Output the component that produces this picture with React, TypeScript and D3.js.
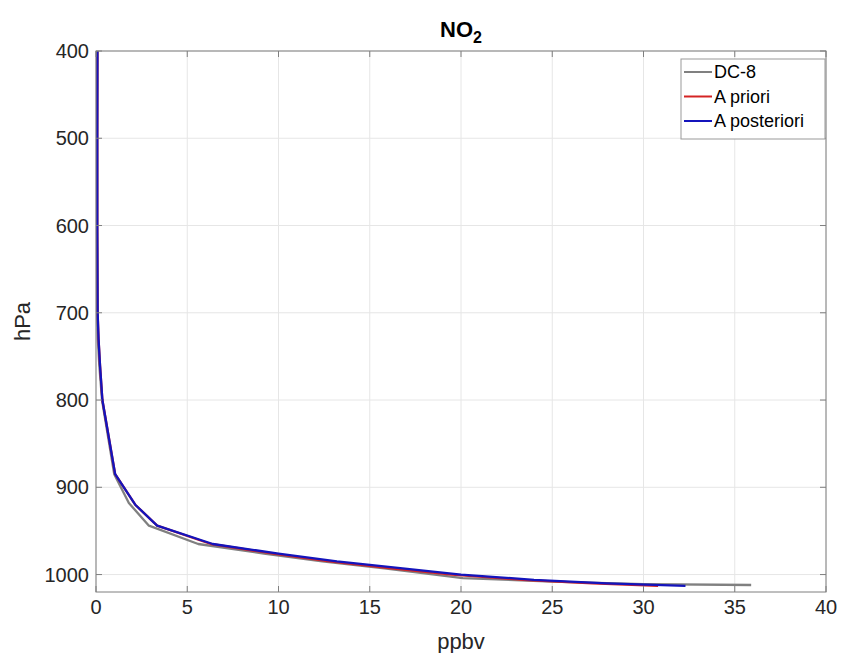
import React from 'react'
import * as d3 from 'd3'

const width = 845
const height = 653
const margin = { top: 51, right: 19, bottom: 61, left: 96 }

// pressure levels (hPa) and mixing ratios (ppbv)
const posteriorP = [400, 500, 600, 700, 730, 760, 800, 885, 920, 944, 965, 976, 985, 993, 1000, 1006, 1010, 1013]
const posteriorV = [0.08, 0.07, 0.07, 0.09, 0.14, 0.22, 0.35, 1.05, 2.15, 3.35, 6.4, 10.0, 13.2, 16.8, 20.0, 24.0, 28.0, 32.3]

const prioriP = [400, 500, 600, 700, 730, 760, 800, 885, 920, 944, 965, 976, 985, 993, 1000, 1006, 1010, 1013]
const prioriV = [0.08, 0.07, 0.07, 0.09, 0.14, 0.22, 0.35, 1.05, 2.15, 3.35, 6.3, 9.7, 12.8, 16.2, 19.5, 23.4, 27.2, 30.8]

const dc8P = [400, 500, 600, 700, 730, 760, 800, 885, 918, 944, 965, 976, 985, 993, 1004, 1008, 1011, 1012]
const dc8V = [0.05, 0.05, 0.05, 0.06, 0.1, 0.18, 0.33, 1.0, 1.8, 2.9, 5.6, 9.2, 12.4, 15.8, 20.1, 25.0, 30.0, 35.9]

const xTicks = [0, 5, 10, 15, 20, 25, 30, 35, 40]
const yTicks = [400, 500, 600, 700, 800, 900, 1000]

const series = [
  { name: 'DC-8', color: '#808080', p: dc8P, v: dc8V },
  { name: 'A priori', color: '#d42424', p: prioriP, v: prioriV },
  { name: 'A posteriori', color: '#1414bc', p: posteriorP, v: posteriorV },
]

const font = 'Liberation Sans, Arial, Helvetica, sans-serif'

const App = () => {
  const x0 = margin.left
  const x1 = width - margin.right
  const y0 = margin.top
  const y1 = height - margin.bottom

  const xScale = d3.scaleLinear().domain([0, 40]).range([x0, x1])
  const yScale = d3.scaleLinear().domain([400, 1020]).range([y0, y1])

  const line = d3.line<[number, number]>()
    .x(d => xScale(d[0]))
    .y(d => yScale(d[1]))

  const tick = 6
  const axisColor = '#7f7f7f'
  const textColor = '#262626'

  return (
    <svg width={width} height={height} style={{ position: 'absolute', left: 0, top: 0 }} fontFamily={font}>
      <rect x={0} y={0} width={width} height={height} fill='white' />
      {/* grid */}
      {xTicks.map(t => (
        <line key={'gx' + t} x1={xScale(t)} x2={xScale(t)} y1={y0} y2={y1} stroke='#e6e6e6' strokeWidth={1} />
      ))}
      {yTicks.map(t => (
        <line key={'gy' + t} x1={x0} x2={x1} y1={yScale(t)} y2={yScale(t)} stroke='#e6e6e6' strokeWidth={1} />
      ))}
      {/* series */}
      {series.map(s => (
        <path key={s.name} d={line(s.v.map((v, i) => [v, s.p[i]] as [number, number])) || ''}
          fill='none' stroke={s.color} strokeWidth={2.3} strokeLinejoin='round' />
      ))}
      {/* box */}
      <rect x={x0} y={y0} width={x1 - x0} height={y1 - y0} fill='none' stroke={axisColor} strokeWidth={1} />
      {/* ticks */}
      {xTicks.map(t => (
        <g key={'tx' + t}>
          <line x1={xScale(t)} x2={xScale(t)} y1={y1} y2={y1 - tick} stroke={axisColor} />
          <line x1={xScale(t)} x2={xScale(t)} y1={y0} y2={y0 + tick} stroke={axisColor} />
          <text x={xScale(t)} y={y1 + 22} textAnchor='middle' fontSize={20} fill={textColor}>{t}</text>
        </g>
      ))}
      {yTicks.map(t => (
        <g key={'ty' + t}>
          <line x1={x0} x2={x0 + tick} y1={yScale(t)} y2={yScale(t)} stroke={axisColor} />
          <line x1={x1} x2={x1 - tick} y1={yScale(t)} y2={yScale(t)} stroke={axisColor} />
          <text x={x0 - 7} y={yScale(t) + 7} textAnchor='end' fontSize={20} fill={textColor}>{t}</text>
        </g>
      ))}
      {/* labels */}
      <text x={(x0 + x1) / 2} y={y1 + 57} textAnchor='middle' fontSize={22} fill={textColor}>ppbv</text>
      <text transform={`translate(30, ${(y0 + y1) / 2}) rotate(-90)`} textAnchor='middle' fontSize={22} fill={textColor}>hPa</text>
      <text x={(x0 + x1) / 2} y={37} textAnchor='middle' fontSize={22} fontWeight='bold' fill='#000'>
        NO<tspan fontSize={16} dy={6}>2</tspan>
      </text>
      {/* legend */}
      <g transform='translate(681, 59)'>
        <rect x={0} y={0} width={144} height={80} fill='white' stroke='#999' strokeWidth={1} />
        {series.map((s, i) => (
          <g key={'lg' + s.name} transform={`translate(0, ${13 + i * 24.5})`}>
            <line x1={3} x2={31} y1={0} y2={0} stroke={s.color} strokeWidth={2} />
            <text x={33} y={6} fontSize={18} fill='#000'>{s.name}</text>
          </g>
        ))}
      </g>
    </svg>
  )
}

export default App
